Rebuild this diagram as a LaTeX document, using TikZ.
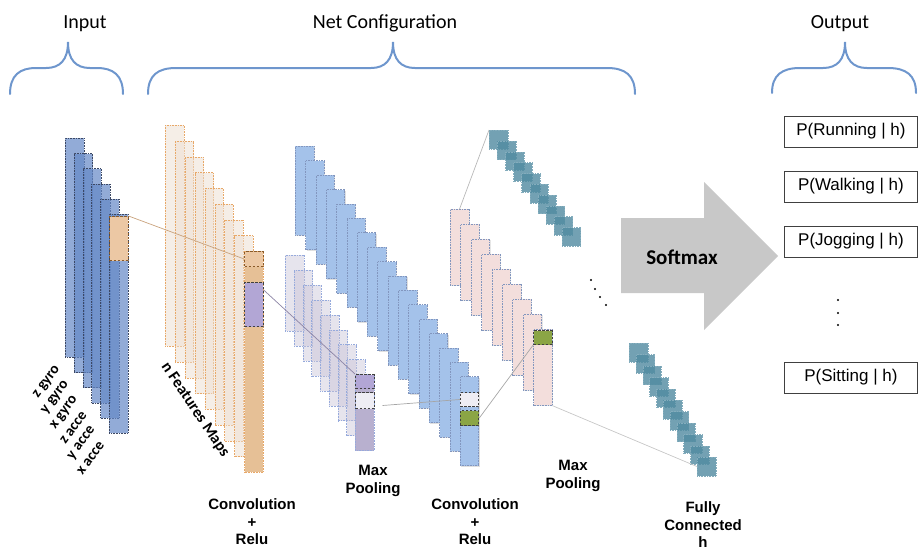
\documentclass[tikz,border=0pt]{standalone}
\usepackage{fontspec}
\usetikzlibrary{shadows}
\newfontfamily\calfont{Carlito}
\newfontfamily\arialfont{Liberation Sans}

\definecolor{braceblue}{RGB}{110,150,205}
\definecolor{inblue}{RGB}{100,136,198}
\definecolor{indot}{RGB}{60,72,100}
\definecolor{fmfaint}{RGB}{236,222,208}
\definecolor{fmdot}{RGB}{232,168,104}
\definecolor{fmtan}{RGB}{230,192,150}
\definecolor{mpfaint}{RGB}{200,195,215}
\definecolor{mpdot}{RGB}{150,170,220}
\definecolor{mpfront}{RGB}{184,176,207}
\definecolor{cvblue}{RGB}{164,194,234}
\definecolor{cvdot}{RGB}{130,150,190}
\definecolor{pkfill}{RGB}{243,222,220}
\definecolor{fcteal}{RGB}{80,138,160}
\definecolor{inorange}{RGB}{236,200,164}
\definecolor{boxbrown}{RGB}{138,90,40}
\definecolor{poolpurple}{RGB}{178,166,213}
\definecolor{winwhite}{RGB}{238,237,244}
\definecolor{wingreen}{RGB}{139,165,69}
\definecolor{linktan}{RGB}{201,162,124}
\definecolor{linkpurple}{RGB}{140,132,165}
\definecolor{arrowgrey}{RGB}{200,200,200}

\tikzset{
  brace/.style={draw=braceblue, line width=2pt, line cap=round},
  head/.style={anchor=base, font=\calfont\fontsize{20}{24}\selectfont},
  layer/.style={anchor=north west, inner sep=0pt, minimum width=18.5pt,
    densely dotted, line width=0.6pt},
  inlayer/.style={layer, minimum height=219pt, fill=inblue, fill opacity=0.7, draw=indot},
  fmlayer/.style={layer, minimum height=221pt, fill=fmfaint, fill opacity=0.5, draw=fmdot},
  fmfront/.style={layer, minimum height=221pt, fill=fmtan, draw=fmdot},
  mplayer/.style={layer, minimum height=76pt, fill=mpfaint, fill opacity=0.45, draw=mpdot},
  mpfront/.style={layer, minimum height=76pt, fill=mpfront, draw=mpdot},
  cvlayer/.style={layer, minimum height=89pt, fill=cvblue, draw=cvdot,
    drop shadow={shadow xshift=1pt, shadow yshift=-1pt, opacity=0.25}},
  pklayer/.style={layer, minimum height=76pt, fill=pkfill, draw=cvdot,
    drop shadow={shadow xshift=1pt, shadow yshift=-1pt, opacity=0.2}},
  fcunit/.style={layer, minimum width=18.5pt, minimum height=18.5pt,
    fill=fcteal, fill opacity=0.8, draw=fcteal!70},
  selbox/.style={anchor=north west, inner sep=0pt, minimum width=18.5pt,
    draw=black!75, dash pattern=on 2.5pt off 1.5pt, line width=1pt},
  link/.style={draw=black!35, line width=0.7pt},
  chlabel/.style={anchor=east, rotate=54, inner sep=0pt,
    font=\calfont\bfseries\fontsize{15}{17}\selectfont},
  steplab/.style={align=center, font=\arialfont\bfseries\fontsize{15}{17.5}\selectfont},
  outbox/.style={anchor=west, draw=black!75, line width=0.9pt, inner sep=0pt,
    minimum width=133pt, minimum height=31pt,
    font=\arialfont\fontsize{17}{20}\selectfont},
}

\begin{document}
\begin{tikzpicture}[x=1pt,y=-1pt]
  \useasboundingbox (0,0) rectangle (918,547);

  % headings and braces
  \node[head] (input) at (85,28) {Input};
  \node[head] (netconf) at (385,28) {Net Configuration};
  \node[head] (output) at (840,28) {Output};
  \draw[brace] (10,94) .. controls (10,75) and (20,68) .. (36,68) -- (46,68)
    .. controls (60,68) and (68,60) .. (68,42) .. controls (68,60) and (76,68) .. (90,68)
    -- (97,68) .. controls (113,68) and (123,75) .. (123,94);
  \draw[brace] (148,94) .. controls (148,75) and (158,68) .. (176,68) -- (371,68)
    .. controls (385,68) and (393,60) .. (393,42) .. controls (393,60) and (401,68) .. (415,68)
    -- (607,68) .. controls (625,68) and (635,75) .. (635,94);
  \draw[brace] (772,93) .. controls (772,75) and (782,68) .. (800,68) -- (823,68)
    .. controls (837,68) and (845,60) .. (845,42) .. controls (845,60) and (853,68) .. (867,68)
    -- (888,68) .. controls (906,68) and (916,75) .. (916,93);

  % input channels
  \foreach \i/\name in {0/z gyro,1/y gyro,2/x gyro,3/z acce,4/y acce,5/x acce} {
    \node[inlayer] (in-\i) at ({65+8.8*\i},{138+15.2*\i}) {};
    \node[chlabel] (lab-\i) at ({58+8.8*\i},{367+15.2*\i}) {\name};
  }

  % first convolution
  \foreach \i in {0,...,7}
    \node[fmlayer] (fm-\i) at ({165+9.9*\i},{125+15.75*\i}) {};
  \node[fmfront] (fm-8) at (244.2,251) {};
  \node[rotate=-56, font=\calfont\bfseries\fontsize{16}{18}\selectfont]
    (fmlab) at (195,410) {n Features Maps};

  % first pooling
  \foreach \i in {0,...,7}
    \node[mplayer] (mp-\i) at ({285+8.75*\i},{255+14.9*\i}) {};
  \node[mpfront] (mp-8) at (355,374.2) {};

  % second convolution
  \foreach \i in {0,...,16}
    \node[cvlayer] (cv-\i) at ({295+10.3*\i},{146+14.4*\i}) {};

  % second pooling
  \foreach \i in {0,...,8}
    \node[pklayer] (pk-\i) at ({450+10.4*\i},{209+15*\i}) {};

  % fully connected units
  \foreach \i in {0,...,9}
    \node[fcunit] (fa-\i) at ({489+8.1*\i},{130+10.8*\i}) {};
  \foreach \i in {0,...,10}
    \node[fcunit] (fb-\i) at ({629+6.8*\i},{343+11.4*\i}) {};
  \foreach \p in {(591,280),(595,289),(600,297),(606,305)}
    \fill \p circle (1.2pt);

  % receptive windows
  \node[selbox, fill=inorange, draw=boxbrown, minimum height=44pt] (inwin) at (109,216) {};
  \node[selbox, fill=inorange, draw=boxbrown, minimum height=15pt] (fmwin) at (244.2,251) {};
  \node[selbox, fill=poolpurple, minimum height=44pt] (fmpool) at (244.2,282) {};
  \node[selbox, fill=poolpurple, minimum height=14pt] (mpwin) at (355,374) {};
  \node[selbox, fill=winwhite, minimum height=16pt] (mpout) at (355,392) {};
  \node[selbox, fill=winwhite, minimum height=14pt] (cvwin) at (459.8,392) {};
  \node[selbox, fill=wingreen, minimum height=15pt] (cvpool) at (459.8,410) {};
  \node[selbox, fill=wingreen, minimum height=14pt] (pkwin) at (533.2,330) {};

  \draw[link, draw=linktan] (inwin.north east) -- (fmwin.west);
  \draw[link, draw=linkpurple] ([yshift=-8pt]fmpool.north east) -- (mpwin.north west);
  \draw[link] ([xshift=8pt,yshift=-5pt]mpout.east) -- (cvwin.west);
  \draw[link] (cvpool.east) -- (pkwin.south west);
  \draw[link, draw=black!28] (pk-0.north) -- (fa-0.north west);
  \draw[link, draw=black!22] (pk-8.south east) -- (fb-10.west);

  % softmax
  \fill[arrowgrey] (621,218) -- (704,218) -- (704,182) -- (778,256) -- (704,330)
    -- (704,293) -- (621,293) -- cycle;
  \node[font=\calfont\bfseries\fontsize{21}{24}\selectfont] (softmax) at (682,257) {Softmax};

  % class probabilities
  \node[outbox] (p-run) at (784,131.5) {P(Running | h)};
  \node[outbox] (p-walk) at (784,186.5) {P(Walking | h)};
  \node[outbox] (p-jog) at (784,241.5) {P(Jogging | h)};
  \node[outbox] (p-sit) at (784,377.5) {P(Sitting | h)};
  \foreach \y in {300,313,325}
    \fill (838,\y) circle (1.2pt);

  % stage names
  \node[steplab] (conv1) at (252,522) {Convolution\\+\\Relu};
  \node[steplab] (pool1) at (373,481) {Max\\Pooling};
  \node[steplab] (conv2) at (475,522) {Convolution\\+\\Relu};
  \node[steplab] (pool2) at (573,476) {Max\\Pooling};
  \node[steplab] (fc) at (703,525) {Fully\\Connected\\h};
\end{tikzpicture}
\end{document}
